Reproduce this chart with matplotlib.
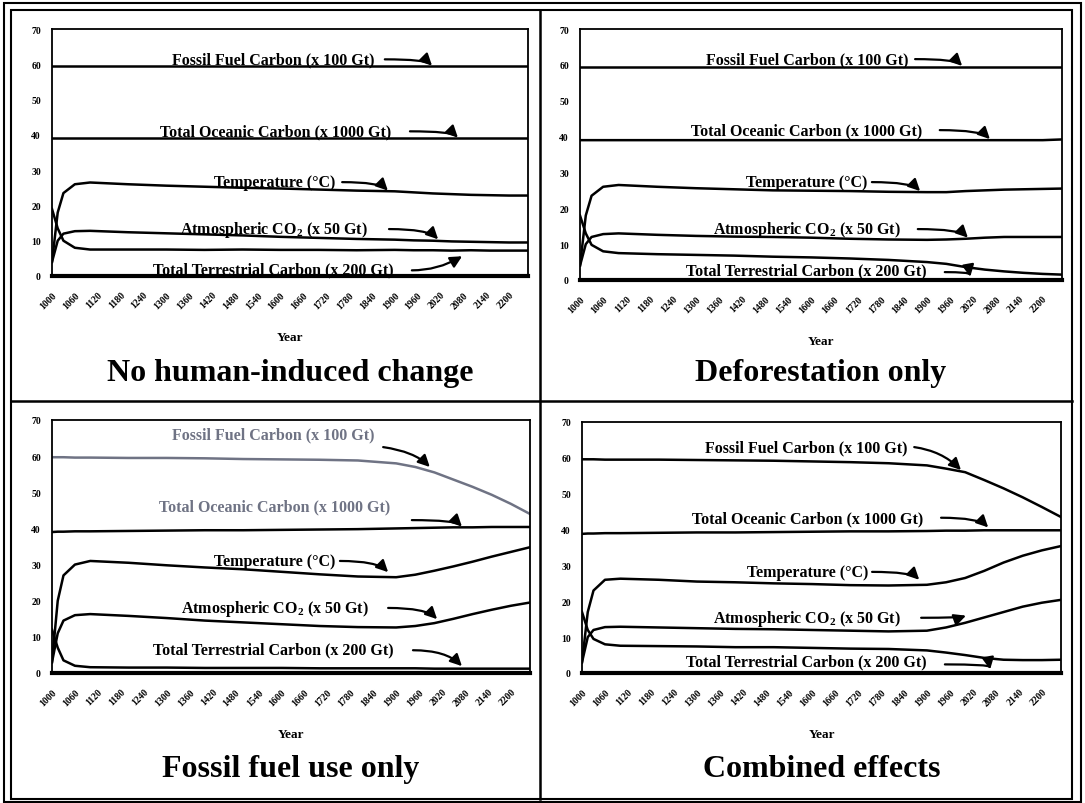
import matplotlib.pyplot as plt
import numpy as np
from matplotlib.patches import Rectangle
from matplotlib.lines import Line2D

# model years (x axis) and tick labels
years = np.array([1000, 1015, 1030, 1060, 1100, 1200, 1300, 1400, 1500, 1600,
                  1700, 1800, 1900, 1950, 2000, 2050, 2100, 2150, 2200, 2250])
tick_years = list(range(1000, 2201, 60))

# --- No human-induced change ---
fossil_none = [59.5] * 20
ocean_none = [39.0] * 20
temp_none = [4, 18, 23.5, 26, 26.5, 26, 25.6, 25.3, 25, 24.8,
             24.5, 24.2, 24, 23.7, 23.4, 23.2, 23, 22.9, 22.8, 22.8]
co2_none = [4, 10, 12, 12.7, 12.8, 12.4, 12.1, 11.8, 11.5, 11.1,
            10.8, 10.5, 10.3, 10.1, 10, 9.8, 9.7, 9.6, 9.5, 9.5]
terr_none = [19, 13.5, 10, 8, 7.5, 7.5, 7.5, 7.4, 7.5, 7.4,
             7.4, 7.3, 7.4, 7.3, 7.3, 7.2, 7.3, 7.2, 7.2, 7.2]

# --- Deforestation only ---
fossil_defor = [59.5] * 20
ocean_defor = [39.0] * 19 + [39.2]
temp_defor = [4, 18, 23.5, 26, 26.5, 26, 25.6, 25.3, 25, 24.9,
              24.8, 24.6, 24.5, 24.5, 24.8, 25, 25.2, 25.3, 25.4, 25.5]
co2_defor = [4, 10, 12, 12.8, 13, 12.6, 12.3, 12.1, 12, 11.8,
             11.5, 11.3, 11.2, 11.3, 11.5, 11.8, 12, 12, 12, 12]
terr_defor = [18, 13, 9.8, 8, 7.5, 7.2, 7, 6.8, 6.5, 6.3,
              6, 5.6, 5, 4.5, 3.6, 2.9, 2.4, 2, 1.7, 1.5]

# --- Fossil fuel use only ---
fossil_fuel = [59.7, 59.7, 59.7, 59.6, 59.6, 59.5, 59.5, 59.4, 59.2, 59.1,
               59, 58.8, 58, 57, 55.5, 53.5, 51.5, 49.3, 46.8, 44]
ocean_fuel = [39, 39.1, 39.1, 39.2, 39.2, 39.3, 39.4, 39.5, 39.5, 39.6,
              39.7, 39.8, 40, 40.1, 40.2, 40.3, 40.3, 40.4, 40.4, 40.4]
temp_fuel = [3, 20, 27, 30, 31, 30.5, 29.8, 29.2, 28.7, 28,
             27.3, 26.7, 26.5, 27.2, 28.3, 29.5, 30.8, 32.2, 33.5, 34.8]
co2_fuel = [3, 11, 14.5, 16, 16.3, 15.8, 15.2, 14.5, 14, 13.5,
            13, 12.7, 12.6, 13, 13.8, 15, 16.3, 17.5, 18.6, 19.5]
terr_fuel = [12, 7, 3.5, 2, 1.6, 1.5, 1.5, 1.4, 1.4, 1.4,
             1.3, 1.3, 1.3, 1.3, 1.2, 1.2, 1.2, 1.2, 1.2, 1.2]

# --- Combined effects ---
fossil_comb = [59.6, 59.6, 59.6, 59.5, 59.5, 59.5, 59.4, 59.3, 59.2, 59,
               58.8, 58.5, 57.9, 57, 56, 53.8, 51.5, 49, 46.3, 43.5]
ocean_comb = [38.8, 38.9, 38.9, 39, 39, 39.1, 39.2, 39.2, 39.3, 39.4,
              39.5, 39.5, 39.6, 39.7, 39.7, 39.8, 39.8, 39.8, 39.8, 39.8]
temp_comb = [3, 17, 23, 26, 26.3, 26, 25.5, 25.3, 25, 24.8,
             24.5, 24.4, 24.6, 25.3, 26.5, 28.5, 30.8, 32.7, 34.2, 35.4]
co2_comb = [3, 10, 12, 12.8, 12.9, 12.7, 12.5, 12.3, 12.2, 12,
            11.8, 11.6, 11.8, 12.7, 14, 15.5, 17, 18.5, 19.6, 20.4]
terr_comb = [17, 12, 9.5, 8, 7.6, 7.5, 7.4, 7.2, 7.2, 7,
             6.8, 6.7, 6.3, 5.7, 5, 4.2, 3.7, 3.6, 3.6, 3.7]

labels = ['Fossil Fuel Carbon (x 100 Gt)',
          'Total Oceanic Carbon (x 1000 Gt)',
          'Temperature (\u00b0C)',
          r'Atmospheric CO$_\mathregular{2}$ (x 50 Gt)',
          'Total Terrestrial Carbon (x 200 Gt)']

titles = ['No human-induced change', 'Deforestation only',
          'Fossil fuel use only', 'Combined effects']

series = [
    [fossil_none, ocean_none, temp_none, co2_none, terr_none],
    [fossil_defor, ocean_defor, temp_defor, co2_defor, terr_defor],
    [fossil_fuel, ocean_fuel, temp_fuel, co2_fuel, terr_fuel],
    [fossil_comb, ocean_comb, temp_comb, co2_comb, terr_comb],
]

# label centre (year, value) and arrow (start, tip, angleA, angleB) per panel
label_pos = [
    [(1582, 61.4), (1587, 41.0), (1586, 26.6), (1584, 13.3), (1580, 2.0)],
    [(1590, 61.6), (1589, 41.8), (1589, 27.3), (1589, 14.2), (1586, 2.8)],
    [(1579, 65.9), (1583, 46.0), (1583, 31.0), (1582, 18.0), (1578, 6.6)],
    [(1585, 63.0), (1590, 43.2), (1588, 28.2), (1586, 15.3), (1585, 3.3)],
]
arrows = [
    [((1874, 61.4), (1998, 59.6), 0, -45), ((1940, 41.0), (2066, 39.2), 0, -45),
     ((1762, 26.6), (1882, 24.2), 0, -45), ((1885, 13.3), (2014, 10.4), 0, -45),
     ((1945, 1.6), (2077, 5.6), 0, 30)],
    [((1869, 61.6), (1991, 59.7), 0, -45), ((1933, 41.8), (2063, 39.3), 0, -45),
     ((1757, 27.3), (1882, 24.8), 0, -45), ((1876, 14.2), (2006, 11.8), 0, -45),
     ((1946, 2.2), (2012, 0.9), 0, -80)],
    [((1866, 62.5), (1988, 57.0), -8, -45), ((1941, 42.3), (2072, 40.5), 0, -45),
     ((1753, 31.0), (1879, 27.9), 0, -45), ((1879, 18.0), (2007, 14.9), 0, -45),
     ((1944, 6.3), (2072, 1.9), 0, -45)],
    [((1867, 63.0), (1989, 56.6), -8, -45), ((1937, 43.3), (2060, 40.6), 0, -45),
     ((1757, 28.2), (1880, 26.0), 0, -45), ((1885, 15.4), (2002, 16.0), 0, 20),
     ((1947, 2.4), (2065, 1.0), 0, -80)],
]

gray = '#6f7384'
W, H = 1085, 804
# axes boxes in pixels: left, top, right, bottom
boxes = [(52, 30, 528, 277), (580, 30, 1062, 281),
         (52, 421, 530, 674), (582, 423, 1061, 674)]

plt.rcParams['font.family'] = 'Liberation Serif'
plt.rcParams['font.weight'] = 'bold'

fig = plt.figure(figsize=(W / 100, H / 100), dpi=100)

for i, (l, t, r, b) in enumerate(boxes):
    ax = fig.add_axes([l / W, 1 - b / H, (r - l) / W, (b - t) / H])
    for j, vals in enumerate(series[i]):
        color = gray if (i == 2 and j == 0) else 'black'
        ax.plot(years, vals, color=color, lw=1.8)
    ax.set_xlim(1000, 2250)
    ax.set_ylim(0, 70)
    ax.set_yticks(range(0, 71, 10))
    ax.set_xticks(tick_years)
    ax.set_xticklabels([str(y) for y in tick_years], rotation=45, ha='right',
                       rotation_mode='anchor', fontsize=7, fontweight='bold')
    ax.tick_params(axis='y', length=0, pad=8, labelsize=7)
    ax.tick_params(axis='x', length=0, pad=10)
    for s in ax.spines.values():
        s.set_linewidth(1.3)
    ax.spines['bottom'].set_linewidth(3)
    ax.set_xlabel('Year', fontsize=9.5, fontweight='bold', labelpad=15)

    for j, txt in enumerate(labels):
        tc = gray if (i == 2 and j in (0, 1)) else 'black'
        ax.text(*label_pos[i][j], txt, ha='center', va='center', fontsize=11.5,
                fontweight='bold', color=tc)
        start, tip, a_a, a_b = arrows[i][j]
        ax.annotate('', xy=tip, xytext=start,
                    arrowprops=dict(arrowstyle='-|>,head_length=0.5,head_width=0.25',
                                    color='black', lw=1.6,
                                    mutation_scale=14, shrinkA=0, shrinkB=0,
                                    connectionstyle='angle3,angleA=%s,angleB=%s'
                                    % (a_a, a_b)))

    cx = (l + r) / 2
    ty = 374 if i < 2 else 770
    fig.text(cx / W, 1 - ty / H, titles[i], ha='center', va='center',
             fontsize=23, fontweight='bold')

# frame: double outer border and the dividers
fig.add_artist(Rectangle((4 / W, 1 - 803 / H), 1077 / W, 799 / H, fill=False,
                         lw=1.5, ec='black', transform=fig.transFigure))
fig.add_artist(Rectangle((11 / W, 1 - 800 / H), 1061 / W, 789 / H, fill=False,
                         lw=1.5, ec='black', transform=fig.transFigure))
fig.add_artist(Line2D([540 / W, 540 / W], [1 - 11 / H, 1 - 800 / H], lw=1.8,
                      color='black', transform=fig.transFigure))
fig.add_artist(Line2D([11 / W, 1072 / W], [1 - 402 / H, 1 - 402 / H], lw=1.8,
                      color='black', transform=fig.transFigure))

fig.savefig('out.png', dpi=100)
